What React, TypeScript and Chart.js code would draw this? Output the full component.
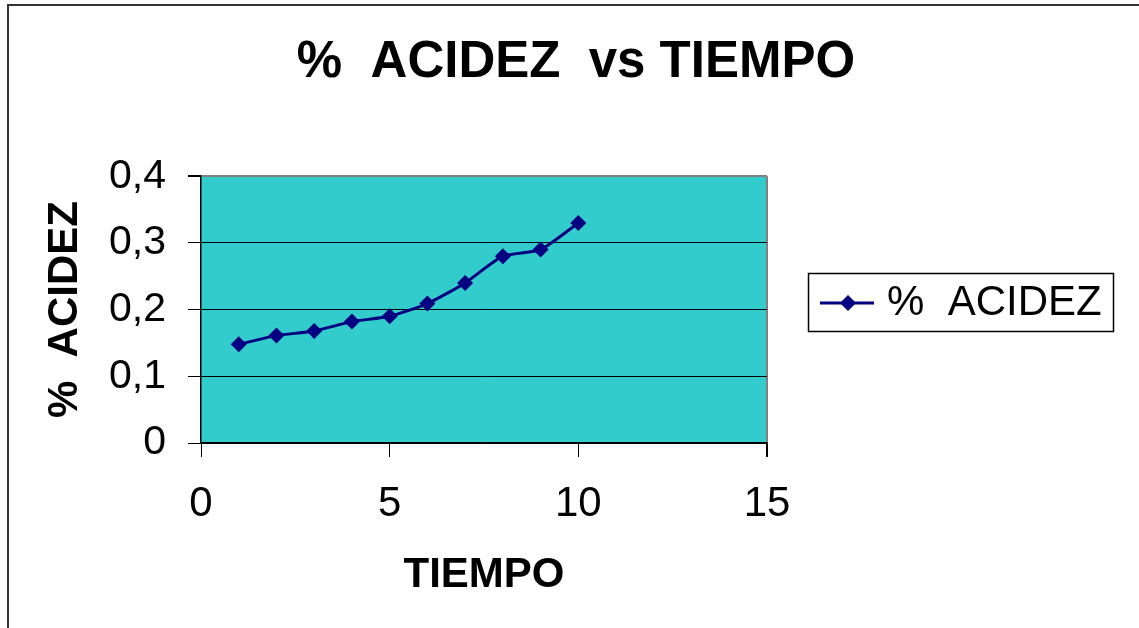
import { useEffect, useRef } from 'react';
import { Chart, registerables } from 'chart.js';

Chart.register(...registerables);

const tiempo = [1, 2, 3, 4, 5, 6, 7, 8, 9, 10];
const acidez = [0.148, 0.161, 0.168, 0.182, 0.19, 0.209, 0.24, 0.28, 0.29, 0.33];
const yTickLabels = ['0', '0,1', '0,2', '0,3', '0,4'];
const xTickLabels = ['0', '5', '10', '15'];
const seriesLabel = '%  ACIDEZ';
const chartTitle = '%  ACIDEZ  vs TIEMPO';
const xTitle = 'TIEMPO';
const yTitle = '%  ACIDEZ';

const FONT = '"Liberation Sans", Arial, sans-serif';
const NAVY = '#000080';
const PLOT_BG = '#33CCCC';

const backgroundPlugin = {
  id: 'bgFrame',
  beforeDraw(chart: any) {
    const { ctx, chartArea, width, height } = chart;
    ctx.save();
    ctx.fillStyle = '#ffffff';
    ctx.fillRect(0, 0, width, height);
    ctx.fillStyle = PLOT_BG;
    ctx.fillRect(chartArea.left, chartArea.top, chartArea.right - chartArea.left, chartArea.bottom - chartArea.top);
    ctx.restore();
  },
  afterDraw(chart: any) {
    const { ctx, width, height } = chart;
    ctx.save();
    ctx.fillStyle = '#333333';
    ctx.fillRect(7, 4, 2, height);
    ctx.fillRect(7, 4, width, 2);
    ctx.restore();
  },
};

const legendPlugin = {
  id: 'boxLegend',
  afterDraw(chart: any) {
    const { ctx, chartArea } = chart;
    const ds = chart.data.datasets[0];
    const left = chartArea.right + 41;
    const top = 273;
    const w = 305;
    const h = 58;
    const cy = top + h / 2 + 1;
    ctx.save();
    ctx.strokeStyle = '#000';
    ctx.lineWidth = 1.5;
    ctx.strokeRect(left + 0.5, top + 0.5, w, h);
    ctx.strokeStyle = ds.borderColor;
    ctx.lineWidth = ds.borderWidth;
    ctx.beginPath();
    ctx.moveTo(left + 12, cy);
    ctx.lineTo(left + 66, cy);
    ctx.stroke();
    const r = ds.pointRadius;
    const mx = left + 40;
    ctx.fillStyle = ds.pointBackgroundColor;
    ctx.beginPath();
    ctx.moveTo(mx - r, cy);
    ctx.lineTo(mx, cy - r);
    ctx.lineTo(mx + r, cy);
    ctx.lineTo(mx, cy + r);
    ctx.closePath();
    ctx.fill();
    ctx.fillStyle = '#000';
    ctx.font = `42px ${FONT}`;
    ctx.textBaseline = 'middle';
    ctx.textAlign = 'left';
    ctx.fillText(ds.label, left + 79, cy);
    ctx.restore();
  },
};

export default function App() {
  const ref = useRef<HTMLCanvasElement | null>(null);

  useEffect(() => {
    if (!ref.current) return;
    const chart = new Chart(ref.current, {
      type: 'line',
      data: {
        datasets: [
          {
            label: seriesLabel,
            data: tiempo.map((t, i) => ({ x: t, y: acidez[i] })),
            borderColor: NAVY,
            backgroundColor: NAVY,
            borderWidth: 3,
            pointStyle: 'rectRot',
            pointRadius: 8,
            pointHoverRadius: 8,
            pointBackgroundColor: NAVY,
            pointBorderColor: NAVY,
            pointBorderWidth: 0,
            tension: 0.2,
            fill: false,
          },
        ],
      },
      plugins: [backgroundPlugin, legendPlugin],
      options: {
        animation: false,
        responsive: false,
        maintainAspectRatio: false,
        layout: { padding: { left: 13, right: 0, top: 0, bottom: 0 } },
        plugins: {
          legend: { display: false },
          tooltip: { enabled: false },
          title: {
            display: true,
            text: chartTitle,
            color: '#000',
            font: { family: FONT, size: 51, weight: 'bold', lineHeight: 1.2 },
            padding: { top: 32, bottom: 83 },
          },
        },
        scales: {
          x: {
            type: 'linear',
            min: 0,
            max: 15,
            afterFit: (s: any) => {
              s.height = 185;
            },
            ticks: {
              stepSize: 5,
              color: '#000',
              padding: 22,
              font: { family: FONT, size: 42, lineHeight: 1.2 },
              callback: (_v: any, i: number) => xTickLabels[i],
              maxRotation: 0,
            },
            grid: {
              drawOnChartArea: true,
              drawTicks: true,
              tickLength: 14,
              tickColor: '#000',
              color: (c: any) => (c.tick && c.tick.value === 15 ? '#808080' : 'rgba(0,0,0,0)'),
              lineWidth: (c: any) => (c.tick && c.tick.value === 15 ? 2 : 1),
            },
            border: { display: true, color: '#000', width: 1.5 },
            title: {
              display: true,
              text: xTitle,
              color: '#000',
              font: { family: FONT, size: 42, weight: 'bold', lineHeight: 1.2 },
              padding: { top: 0, bottom: 27 },
            },
          },
          y: {
            type: 'linear',
            min: 0,
            max: 0.4,
            afterFit: (s: any) => {
              s.width = 188;
            },
            ticks: {
              stepSize: 0.1,
              color: '#000',
              padding: 22,
              font: { family: FONT, size: 41, lineHeight: 1.2 },
              callback: (_v: any, i: number) => yTickLabels[i],
            },
            grid: {
              drawTicks: true,
              tickLength: 13,
              tickColor: '#000',
              color: (c: any) => (c.tick && Math.abs(c.tick.value - 0.4) < 1e-6 ? '#808080' : '#000'),
              lineWidth: (c: any) => (c.tick && Math.abs(c.tick.value - 0.4) < 1e-6 ? 2 : 1),
            },
            border: { display: true, color: '#000', width: 1.5 },
            title: {
              display: true,
              text: yTitle,
              color: '#000',
              font: { family: FONT, size: 42, weight: 'bold', lineHeight: 1.2 },
              padding: { top: 27, bottom: 0 },
            },
          },
          yRight: {
            type: 'linear',
            position: 'right',
            display: true,
            afterFit: (s: any) => {
              s.width = 372;
            },
            ticks: { display: false },
            grid: { display: false, drawTicks: false },
            border: { display: false },
            title: { display: false },
          },
        },
      },
    } as any);
    return () => chart.destroy();
  }, []);

  return (
    <div style={{ position: 'fixed', left: 0, top: 0, width: 1139, height: 628 }}>
      <canvas ref={ref} width={1139} height={628} style={{ display: 'block', width: 1139, height: 628 }} />
    </div>
  );
}
